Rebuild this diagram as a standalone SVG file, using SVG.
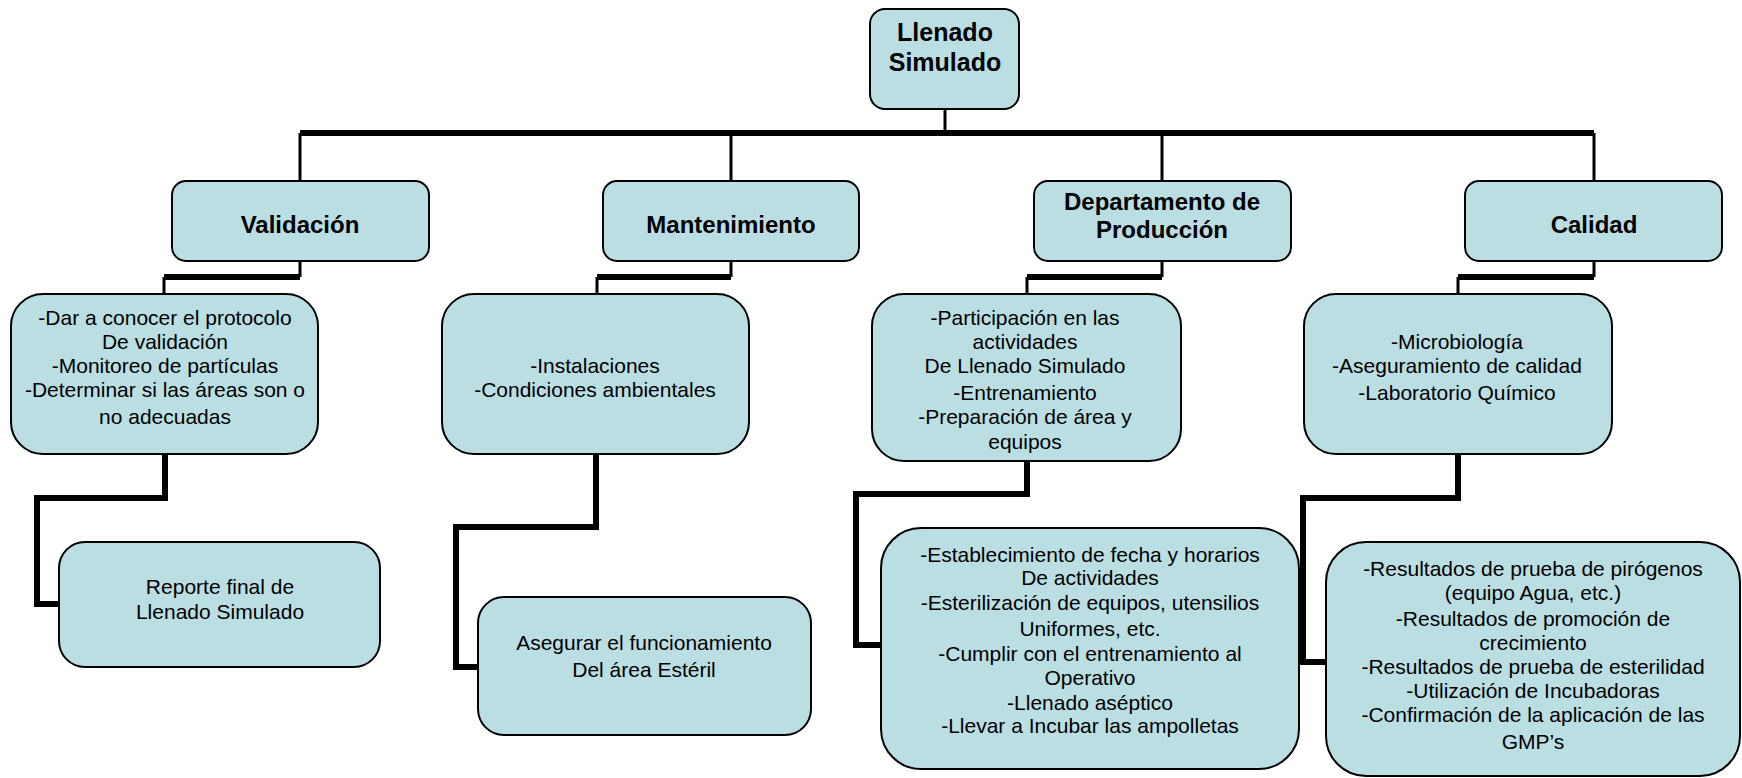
<svg xmlns="http://www.w3.org/2000/svg" width="1742" height="778" viewBox="0 0 1742 778">
<style>
.box{fill:#BBDEE3;stroke:#000;stroke-width:2}
.thin{fill:none;stroke:#000;stroke-width:3}
.thick{fill:none;stroke:#000;stroke-width:6;stroke-linejoin:miter}
.t{font-family:"Liberation Sans",Arial,sans-serif;font-size:21px;fill:#000;text-anchor:middle}
.b{font-family:"Liberation Sans",Arial,sans-serif;font-size:24px;font-weight:bold;fill:#000;text-anchor:middle}
.r{font-family:"Liberation Sans",Arial,sans-serif;font-size:25px;font-weight:bold;fill:#000;text-anchor:middle}
</style>
<rect width="1742" height="778" fill="#fff"/>
<g id="connectors">
<path class="thin" d="M945,109V133"/>
<path class="thick" d="M300,133H1594"/>
<path class="thin" d="M300,133V181M731,133V181M1162,133V181M1594,133V181"/>
<path class="thin" d="M300,261V277M164,277V293"/>
<path class="thick" d="M300,277H164"/>
<path class="thin" d="M731,261V277M597,277V293"/>
<path class="thick" d="M731,277H597"/>
<path class="thin" d="M1162,261V277M1027,277V293"/>
<path class="thick" d="M1162,277H1027"/>
<path class="thin" d="M1594,261V277M1458,277V293"/>
<path class="thick" d="M1594,277H1458"/>
<path class="thick" d="M165,454V498H37V604H60"/>
<path class="thick" d="M596,454V527H456V667H479"/>
<path class="thick" d="M1027,461V494H856V645H882"/>
<path class="thick" d="M1458,454V498H1303V662H1327"/>
</g>
<g id="root">
<rect class="box" x="870" y="9" width="149" height="100" rx="15"/>
<text class="r" x="945" y="41">Llenado</text>
<text class="r" x="945" y="71">Simulado</text>
</g>
<g id="validacion">
<rect class="box" x="172" y="181" width="257" height="80" rx="14"/>
<text class="b" x="300" y="233">Validación</text>
</g>
<g id="mantenimiento">
<rect class="box" x="603" y="181" width="256" height="80" rx="14"/>
<text class="b" x="731" y="233">Mantenimiento</text>
</g>
<g id="departamento">
<rect class="box" x="1034" y="181" width="257" height="80" rx="14"/>
<text class="b" x="1162" y="210">Departamento de</text>
<text class="b" x="1162" y="238">Producción</text>
</g>
<g id="calidad">
<rect class="box" x="1465" y="181" width="257" height="80" rx="14"/>
<text class="b" x="1594" y="233">Calidad</text>
</g>
<g id="validacion-tareas">
<rect class="box" x="11" y="294" width="307" height="160" rx="32"/>
<text class="t" x="165" y="325">-Dar a conocer el protocolo</text>
<text class="t" x="165" y="349">De validación</text>
<text class="t" x="165" y="373">-Monitoreo de partículas</text>
<text class="t" x="165" y="397">-Determinar si las áreas son o</text>
<text class="t" x="165" y="424">no adecuadas</text>
</g>
<g id="mantenimiento-tareas">
<rect class="box" x="442" y="294" width="307" height="160" rx="32"/>
<text class="t" x="595" y="373">-Instalaciones</text>
<text class="t" x="595" y="397">-Condiciones ambientales</text>
</g>
<g id="departamento-tareas">
<rect class="box" x="872" y="294" width="309" height="167" rx="32"/>
<text class="t" x="1025" y="325">-Participación en las</text>
<text class="t" x="1025" y="349">actividades</text>
<text class="t" x="1025" y="373">De Llenado Simulado</text>
<text class="t" x="1025" y="400">-Entrenamiento</text>
<text class="t" x="1025" y="424">-Preparación de área y</text>
<text class="t" x="1025" y="449">equipos</text>
</g>
<g id="calidad-tareas">
<rect class="box" x="1304" y="294" width="308" height="160" rx="32"/>
<text class="t" x="1457" y="349">-Microbiología</text>
<text class="t" x="1457" y="373">-Aseguramiento de calidad</text>
<text class="t" x="1457" y="400">-Laboratorio Químico</text>
</g>
<g id="reporte-final">
<rect class="box" x="59" y="542" width="321" height="125" rx="26"/>
<text class="t" x="220" y="594">Reporte final de</text>
<text class="t" x="220" y="619">Llenado Simulado</text>
</g>
<g id="area-esteril">
<rect class="box" x="478" y="597" width="333" height="138" rx="26"/>
<text class="t" x="644" y="650">Asegurar el funcionamiento</text>
<text class="t" x="644" y="677">Del área Estéril</text>
</g>
<g id="departamento-actividades">
<rect class="box" x="881" y="528" width="418" height="241" rx="40"/>
<text class="t" x="1090" y="562">-Establecimiento de fecha y horarios</text>
<text class="t" x="1090" y="585">De actividades</text>
<text class="t" x="1090" y="610">-Esterilización de equipos, utensilios</text>
<text class="t" x="1090" y="636">Uniformes, etc.</text>
<text class="t" x="1090" y="661">-Cumplir con el entrenamiento al</text>
<text class="t" x="1090" y="685">Operativo</text>
<text class="t" x="1090" y="710">-Llenado aséptico</text>
<text class="t" x="1090" y="733">-Llevar a Incubar las ampolletas</text>
</g>
<g id="calidad-resultados">
<rect class="box" x="1326" y="542" width="414" height="234" rx="40"/>
<text class="t" x="1533" y="576">-Resultados de prueba de pirógenos</text>
<text class="t" x="1533" y="600">(equipo Agua, etc.)</text>
<text class="t" x="1533" y="626">-Resultados de promoción de</text>
<text class="t" x="1533" y="650">crecimiento</text>
<text class="t" x="1533" y="674">-Resultados de prueba de esterilidad</text>
<text class="t" x="1533" y="698">-Utilización de Incubadoras</text>
<text class="t" x="1533" y="722">-Confirmación de la aplicación de las</text>
<text class="t" x="1533" y="749">GMP’s</text>
</g>
</svg>
